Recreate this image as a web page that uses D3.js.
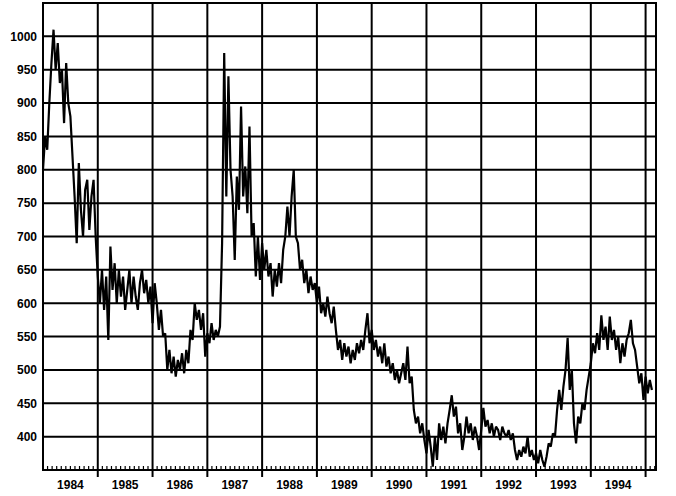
<!DOCTYPE html>
<html>
<head>
<meta charset="utf-8">
<script src="https://cdn.jsdelivr.net/npm/d3@7"></script>
<style>
  html, body { margin: 0; padding: 0; background: #fff; }
  svg { display: block; }
  text { font-family: Arial, "Liberation Sans", sans-serif; font-weight: bold; font-size: 12px; fill: #000; }
</style>
</head>
<body>
<svg id="chart" width="676" height="496"></svg>
<script>
// ---- data (one value every two weeks, starting Jan 1984) ----
const startYear = 1984;
const stepsPerYear = 26;
const values = [
  // 1984
  800, 850, 830, 900, 960, 1010, 950, 990, 930, 950, 870, 960, 900, 880,
  820, 760, 690, 810, 740, 700, 770, 785, 710, 760, 785, 700,
  // 1985
  640, 600, 650, 590, 640, 545, 685, 620, 660, 600, 650, 610, 640,
  590, 620, 650, 600, 640, 610, 590, 630, 650, 615, 635, 600, 625,
  // 1986
  570, 630, 600, 560, 590, 550, 555, 500, 530, 495, 520, 490, 515,
  500, 525, 495, 530, 510, 560, 545, 600, 575, 590, 560, 585, 520,
  // 1987
  555, 540, 570, 545, 560, 550, 565, 690, 975, 760, 940, 800, 760,
  665, 790, 740, 895, 760, 805, 735, 865, 700, 720, 640, 700, 635,
  // 1988
  690, 650, 680, 640, 660, 610, 650, 625, 660, 630, 680, 700, 745,
  700, 760, 800, 700, 690, 650, 665, 630, 650, 615, 640, 620, 630,
  // 1989
  600, 625, 585, 600, 580, 610, 585, 570, 595, 560, 530, 545, 515,
  540, 520, 535, 510, 530, 515, 540, 525, 545, 530, 560, 585, 540,
  // 1990
  560, 530, 545, 520, 535, 510, 540, 505, 520, 495, 510, 485, 500,
  480, 495, 510, 485, 535, 480, 490, 440, 420, 430, 405, 420, 395,
  // 1991
  375, 410, 385, 355, 400, 365, 420, 395, 415, 390, 420, 440, 462,
  430, 445, 405, 420, 380, 400, 430, 405, 420, 395, 415, 400, 380,
  // 1992
  410, 443, 415, 425, 405, 420, 400, 415, 410, 395, 415, 405, 400,
  410, 395, 405, 380, 365, 380, 370, 385, 375, 400, 370, 380, 365,
  // 1993
  375, 360, 380, 365, 355, 370, 390, 385, 405, 400, 440, 470, 440,
  475, 500, 548, 470, 500, 420, 390, 430, 420, 450, 440, 470, 490,
  // 1994
  510, 540, 525, 555, 530, 582, 545, 565, 530, 580, 545, 560, 530,
  550, 510, 540, 520, 545, 555, 575, 540, 530, 505, 480, 495, 455,
  // 1995
  490, 465, 485, 470
];
const yTicks = [400, 450, 500, 550, 600, 650, 700, 750, 800, 850, 900, 950, 1000];
const yearLines = [1985, 1986, 1987, 1988, 1989, 1990, 1991, 1992, 1993, 1994, 1995];
const yearLabels = ["1984", "1985", "1986", "1987", "1988", "1989", "1990", "1991", "1992", "1993", "1994"];

const series = values.map((v, i) => ({ t: startYear + i / stepsPerYear, v }));

// ---- layout ----
const svg = d3.select("#chart");
const mLeft = 43, mRight = 656, mTop = 3, mBottom = 470;

const x = d3.scaleLinear().domain([1984, 1995.19]).range([mLeft, mRight]);
const y = d3.scaleLinear().domain([350, 1050]).range([mBottom, mTop]);

// horizontal grid lines
svg.append("g")
  .selectAll("line")
  .data(yTicks)
  .join("line")
  .attr("x1", mLeft).attr("x2", mRight)
  .attr("y1", d => y(d)).attr("y2", d => y(d))
  .attr("stroke", "#000").attr("stroke-width", 2);

// vertical year lines (extend a little below the axis)
svg.append("g")
  .selectAll("line")
  .data(yearLines)
  .join("line")
  .attr("x1", d => x(d)).attr("x2", d => x(d))
  .attr("y1", mTop).attr("y2", mBottom + 7)
  .attr("stroke", "#000").attr("stroke-width", 2);

// monthly minor ticks on the bottom axis
const months = d3.range(1984 * 12 + 1, 1995 * 12 + 3).map(m => m / 12).filter(m => !Number.isInteger(m));
svg.append("g")
  .selectAll("line")
  .data(months)
  .join("line")
  .attr("x1", d => x(d)).attr("x2", d => x(d))
  .attr("y1", mBottom - 4).attr("y2", mBottom + 1)
  .attr("stroke", "#000").attr("stroke-width", 1.2);

// frame
svg.append("rect")
  .attr("x", mLeft).attr("y", mTop)
  .attr("width", mRight - mLeft).attr("height", mBottom - mTop)
  .attr("fill", "none").attr("stroke", "#000").attr("stroke-width", 2);

// y labels
svg.append("g")
  .selectAll("text")
  .data(yTicks)
  .join("text")
  .attr("x", 37)
  .attr("y", d => y(d))
  .attr("dy", "0.36em")
  .attr("text-anchor", "end")
  .text(d => d);

// x labels at mid-year
svg.append("g")
  .selectAll("text")
  .data(yearLabels)
  .join("text")
  .attr("x", d => x(+d + 0.5))
  .attr("y", 489)
  .attr("text-anchor", "middle")
  .text(d => d);

// data line
const line = d3.line().x(d => x(d.t)).y(d => y(d.v));
svg.append("path")
  .datum(series)
  .attr("d", line)
  .attr("fill", "none")
  .attr("stroke", "#000")
  .attr("stroke-width", 2.2)
  .attr("stroke-linejoin", "miter")
  .attr("stroke-miterlimit", 2);
</script>
</body>
</html>
